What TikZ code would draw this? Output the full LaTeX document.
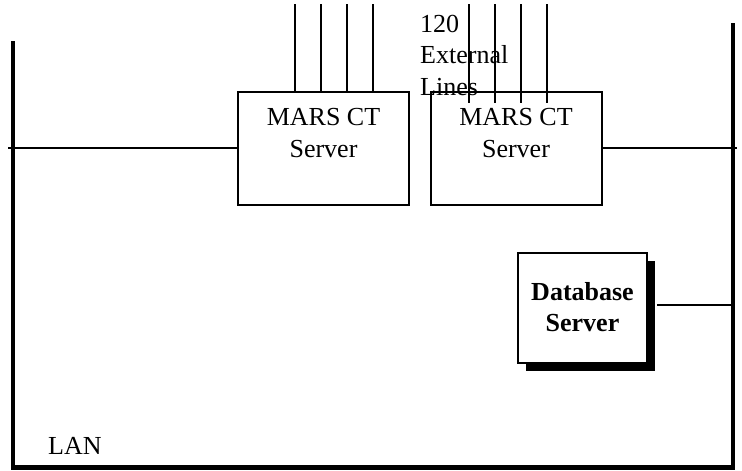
\documentclass[tikz,border=0pt]{standalone}
\usepackage{fontspec}
\setmainfont{Liberation Serif}
\usetikzlibrary{shadows}
\begin{document}
\begin{tikzpicture}[x=1pt,y=-1pt,
  txt/.style={inner sep=0pt,font=\fontsize{26}{31}\selectfont},
  srv/.style={draw,line width=2pt,minimum width=171pt,minimum height=113pt,inner sep=0pt,fill=white},
  dbbox/.style={draw,line width=2pt,minimum width=129pt,minimum height=110pt,inner sep=0pt,fill=white,
     drop shadow={shadow xshift=8pt,shadow yshift=-8pt,fill=black,opacity=1}},
  lan/.style={line width=4pt},
  wire/.style={line width=2pt}]
\useasboundingbox (0,0) rectangle (742,471);
% LAN bus
\coordinate (lt) at (13,41);
\coordinate (lb) at (13,467);
\coordinate (rb) at (733,467);
\coordinate (rt) at (733,23);
\draw[lan] (lt) -- (lb);
\draw[line width=5pt] (11,467) -- (735,467);
\draw[lan] (rb) -- (rt);
% servers
\node[srv] (s1) at (323.5,148) {};
\node[srv] (s2) at (516,148) {};
\node[txt,anchor=base] (s1a) at (323.5,125) {MARS CT};
\node[txt,anchor=base] (s1b) at (323.5,157) {Server};
\node[txt,anchor=base] (s2a) at (516,125) {MARS CT};
\node[txt,anchor=base] (s2b) at (516,157) {Server};
% LAN connections
\coordinate (lw) at (8,148);
\coordinate (re) at (737,148);
\draw[wire] (lw) -- (s1.west);
\draw[wire] (s2.east) -- (re);
% external lines label
\node[txt,anchor=base west] (e1) at (420,32) {120};
\node[txt,anchor=base west] (e2) at (420,63) {External};
\node[txt,anchor=base west] (e3) at (420,95) {Lines};
% external lines
\foreach \x/\n in {295/a,321/b,347/c,373/d}{
  \coordinate (t1\n) at (\x,4);
  \coordinate (b1\n) at (\x,91);
  \draw[wire] (t1\n) -- (b1\n);
}
\foreach \x/\n in {469/a,495/b,521/c,547/d}{
  \coordinate (t2\n) at (\x,4);
  \coordinate (b2\n) at (\x,103);
  \draw[wire] (t2\n) -- (b2\n);
}
% database server
\node[dbbox] (db) at (582.5,308) {};
\node[txt,anchor=base,font=\fontsize{26}{31}\selectfont\bfseries] (dba) at (582.5,300) {Database};
\node[txt,anchor=base,font=\fontsize{26}{31}\selectfont\bfseries] (dbb) at (582.5,331) {Server};
\coordinate (dbr) at (733,305);
\draw[wire] (657,305) -- (dbr);
% LAN label
\node[txt,anchor=base west] (lanl) at (48,454) {LAN};
\end{tikzpicture}
\end{document}
